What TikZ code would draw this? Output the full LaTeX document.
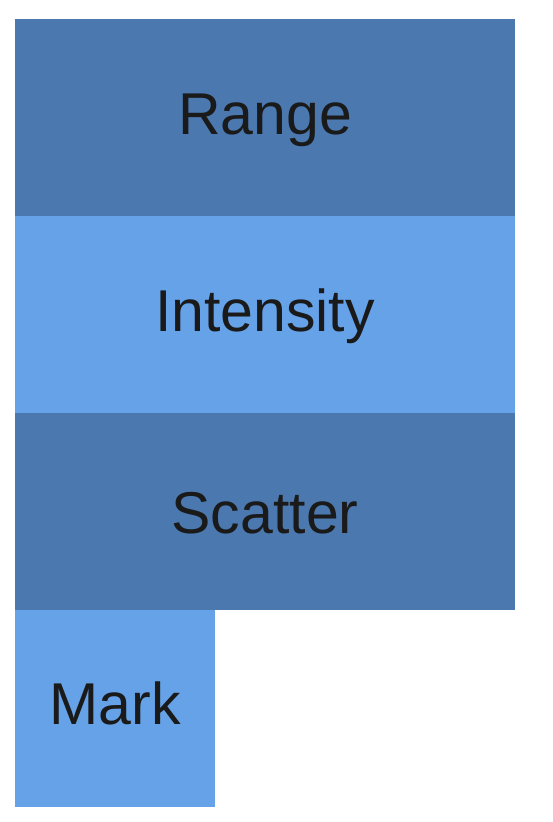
\documentclass[tikz,border=0pt]{standalone}
\usepackage{fontspec}
\setmainfont{Liberation Sans}
\definecolor{darkblk}{HTML}{4A78AF}
\definecolor{lightblk}{HTML}{66A2E7}
\definecolor{txt}{HTML}{1A1A1A}
\begin{document}
\begin{tikzpicture}[x=1pt,y=-1pt,
  blk/.style={minimum width=500pt, minimum height=197pt, inner sep=0pt, outer sep=0pt, anchor=north west, text=txt, text depth=10pt, font=\fontsize{59}{70}\selectfont},
  dark/.style={blk, fill=darkblk},
  light/.style={blk, fill=lightblk}]
\useasboundingbox (0,0) rectangle (552,822);
\node[dark, text height=43pt] (range) at (15,19) {Range};
\node[light, text height=44.4pt] (intensity) at (15,216) {Intensity};
\node[dark, text height=53.6pt] (scatter) at (15,413) {Scatter};
\node[light, text height=42pt, minimum width=200pt, minimum height=196.7pt] (mark) at (15,610) {Mark};
\end{tikzpicture}
\end{document}
